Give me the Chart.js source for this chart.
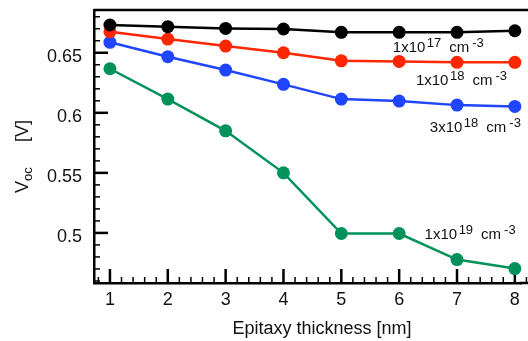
<!DOCTYPE html>
<html>
<head>
<meta charset="utf-8">
<script src="https://cdn.jsdelivr.net/npm/chart.js@4.4.1/dist/chart.umd.min.js"></script>
<style>
  html,body{margin:0;padding:0;background:#fff;}
  #wrap{width:528px;height:341px;}
</style>
</head>
<body>
<div id="wrap"><canvas id="c" width="528" height="341"></canvas></div>
<script>
// values
const thickness = [1, 2, 3, 4, 5, 6, 7, 8];
const voc1e17 = [0.6731, 0.6717, 0.6703, 0.6698, 0.6670, 0.6670, 0.6670, 0.6683];
const voc1e18 = [0.6675, 0.6614, 0.6556, 0.6500, 0.6433, 0.6428, 0.6420, 0.6420];
const voc3e18 = [0.6587, 0.6467, 0.6356, 0.6237, 0.6114, 0.6098, 0.6064, 0.6053];
const voc1e19 = [0.6367, 0.6114, 0.5850, 0.5500, 0.4995, 0.4995, 0.4778, 0.4703];

const xTicks = [1, 2, 3, 4, 5, 6, 7, 8];
const yTicks = [0.5, 0.55, 0.6, 0.65];

// series labels: mantissa, exponent, and where they sit (data coords)
const labelMant = ['1x10', '1x10', '3x10', '1x10'];
const labelExp = ['17', '18', '18', '19'];
const labelX = [5.89, 6.29, 6.53, 6.44];
const labelY = [0.6508, 0.6231, 0.5842, 0.4953];

const FONT = '"Liberation Sans", Arial, sans-serif';
const colors = ['#000000', '#ff2600', '#1f45ff', '#00925a'];
const series = [voc1e17, voc1e18, voc3e18, voc1e19];

function pts(vals){
    return thickness.map((t,i)=>({x:t, y:vals[i]}));
}

const axisDeco = {
    id: 'axisDeco',
    beforeDatasetsDraw(chart){
        const {ctx, chartArea:a, scales:{x, y}} = chart;
        const W = chart.width;
        ctx.save();
        ctx.strokeStyle = '#000';
        // frame runs out past the right edge of the picture
        ctx.lineWidth = 2.5;
        ctx.beginPath(); ctx.moveTo(a.left, a.top); ctx.lineTo(W, a.top); ctx.stroke();
        ctx.beginPath(); ctx.moveTo(a.right - 2, a.bottom); ctx.lineTo(W, a.bottom); ctx.stroke();

        // x ticks, pointing up into the plot
        for(let k=4; k<=41; k++){
            const v = k/5;
            const px = x.getPixelForValue(v);
            if(px < a.left || px > W) continue;
            const major = k % 5 === 0;
            ctx.lineWidth = major ? 2.5 : 1.5;
            ctx.beginPath(); ctx.moveTo(px, a.bottom); ctx.lineTo(px, a.bottom - (major ? 14 : 6)); ctx.stroke();
        }
        // y ticks, pointing right into the plot
        for(let k=46; k<=68; k++){
            const v = k/100;
            if(v < y.min || v > y.max) continue;
            const py = y.getPixelForValue(v);
            const major = k % 5 === 0;
            ctx.lineWidth = major ? 2.5 : 1.5;
            ctx.beginPath(); ctx.moveTo(a.left, py); ctx.lineTo(a.left + (major ? 14 : 6), py); ctx.stroke();
        }
        ctx.restore();
    },
    afterDraw(chart){
        const {ctx, scales:{x, y}} = chart;
        ctx.save();
        ctx.fillStyle = '#111';
        ctx.textBaseline = 'alphabetic';
        ctx.textAlign = 'left';

        // series labels with superscripts
        for(let i=0; i<labelMant.length; i++){
            let px = x.getPixelForValue(labelX[i]);
            const py = y.getPixelForValue(labelY[i]);
            ctx.font = '15px ' + FONT;
            ctx.fillText(labelMant[i], px, py);
            px += ctx.measureText(labelMant[i]).width + 1.5;
            ctx.font = '13px ' + FONT;
            ctx.fillText(labelExp[i], px, py - 5);
            px += ctx.measureText(labelExp[i]).width + 8;
            ctx.font = '15px ' + FONT;
            ctx.fillText('cm', px, py);
            px += ctx.measureText('cm').width + 3;
            ctx.font = '13px ' + FONT;
            ctx.fillText('-3', px, py - 5);
        }

        // x title
        ctx.font = '18px ' + FONT;
        ctx.textAlign = 'center';
        ctx.fillText('Epitaxy thickness [nm]', 322, 333.5);

        // y title, rotated, with subscript
        ctx.textAlign = 'left';
        ctx.translate(28, 193);
        ctx.rotate(-Math.PI/2);
        ctx.font = '18px ' + FONT;
        ctx.fillText('V', 0, 0);
        const vw = ctx.measureText('V').width;
        ctx.font = '13px ' + FONT;
        ctx.fillText('oc', vw, 3.5);
        ctx.font = '18px ' + FONT;
        ctx.fillText('[V]', 51, 0);
        ctx.restore();
    }
};

new Chart(document.getElementById('c'), {
    type: 'line',
    data: {
        datasets: series.map((s,i)=>({
            data: pts(s),
            borderColor: colors[i],
            backgroundColor: colors[i],
            pointBackgroundColor: colors[i],
            pointBorderWidth: 0,
            pointRadius: 6.5,
            borderWidth: 2.5,
            tension: 0,
            clip: false
        }))
    },
    options: {
        responsive: false,
        animation: false,
        events: [],
        layout: {padding: {top: 10, right: 0, left: 0, bottom: 0}},
        plugins: {legend: {display: false}, tooltip: {enabled: false}},
        scales: {
            x: {
                type: 'linear',
                min: 0.7243, max: 8.115,
                afterBuildTicks: s => { s.ticks = xTicks.map(v=>({value:v})); },
                afterFit: s => { s.height = 58; s.paddingLeft = 0; s.paddingRight = 0; },
                grid: {display: true, drawOnChartArea: false, drawTicks: false},
                border: {display: true, color: '#000', width: 2.5},
                ticks: {color: '#111', padding: 6, maxRotation: 0, font: {family: FONT, size: 18}, callback: v => String(v)}
            },
            y: {
                type: 'linear',
                min: 0.4583, max: 0.6856,
                afterBuildTicks: s => { s.ticks = yTicks.map(v=>({value:v})); },
                afterFit: s => { s.width = 94; s.paddingTop = 0; s.paddingBottom = 0; },
                grid: {display: true, drawOnChartArea: false, drawTicks: false},
                border: {display: true, color: '#000', width: 2.5},
                ticks: {color: '#111', padding: 12, labelOffset: 4, font: {family: FONT, size: 18}, callback: v => String(v)}
            }
        }
    },
    plugins: [axisDeco]
});
</script>
</body>
</html>
